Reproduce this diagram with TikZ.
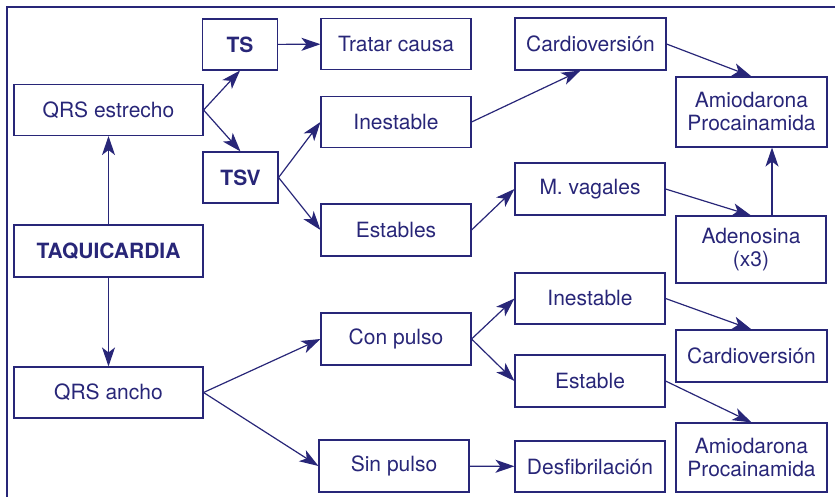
\documentclass[tikz,border=0pt]{standalone}
\usepackage{fontspec}
\setmainfont{TeX Gyre Heros}
\usetikzlibrary{arrows.meta}
\definecolor{azul}{RGB}{40,38,120}
\begin{document}
\begin{tikzpicture}[x=1pt,y=-1pt,
  box/.style={draw=azul, line width=1.1pt, text=azul, inner sep=0pt, align=center,
    minimum width=150pt, minimum height=51pt, font=\fontsize{21}{23}\selectfont},
  flecha/.style={draw=azul, line width=1.2pt, -{Stealth[length=19pt,width=13pt,inset=5pt]}}]
\useasboundingbox (0,0) rectangle (835,497);
\draw[azul, line width=2.5pt] (7,497) -- (7,7) -- (835,7);
% columna izquierda
\node[box, minimum width=189pt] (qrsE) at (108.5,110) {QRS estrecho};
\node[box, minimum width=189pt, minimum height=52pt] (taqui) at (108.5,251) {\bfseries TAQUICARDIA};
\node[box, minimum width=189pt] (qrsA) at (108.5,392.5) {QRS ancho};
\node[box, minimum width=75pt] (ts) at (240,44.5) {\bfseries TS};
\node[box, minimum width=75pt] (tsv) at (240.5,177.5) {\bfseries TSV};
% segunda columna
\node[box] (tratar) at (396,44) {Tratar causa};
\node[box] (inestA) at (396,122) {Inestable};
\node[box, minimum height=52pt] (estables) at (396,230) {Estables};
\node[box, minimum height=52pt] (conP) at (396,339) {Con pulso};
\node[box, minimum height=52pt] (sinP) at (394,466) {Sin pulso};
% tercera columna
\node[box, minimum width=151pt, minimum height=52pt] (cardioA) at (590.5,44) {Cardioversión};
\node[box, minimum height=52pt] (vagales) at (590,189) {M. vagales};
\node[box] (inestB) at (590,298.5) {Inestable};
\node[box, minimum height=52pt] (estable) at (590,381) {Estable};
\node[box] (desfib) at (590,466.5) {Desfibrilación};
% columna derecha
\node[box, minimum width=151pt, minimum height=70pt] (amioA) at (751.5,112) {Amiodarona\\Procainamida};
\node[box, minimum height=67pt] (adeno) at (751,249.5) {Adenosina\\(x3)};
\node[box, minimum width=151pt, minimum height=52pt] (cardioB) at (751.5,356) {Cardioversión};
\node[box, minimum width=151pt, minimum height=69pt] (amioB) at (751.5,457.5) {Amiodarona\\Procainamida};
% flechas
\draw[flecha] (taqui) -- (qrsE);
\draw[flecha] (taqui) -- (qrsA);
\draw[flecha] (qrsE.east) -- (ts.south);
\draw[flecha] (qrsE.east) -- (tsv.north);
\draw[flecha] (ts) -- (tratar);
\draw[flecha] (tsv.east) -- (inestA.west);
\draw[flecha] (tsv.east) -- (estables.west);
\draw[flecha] (inestA.east) -- ([xshift=-10pt]cardioA.south);
\draw[flecha] (estables.east) -- (vagales.west);
\draw[flecha] (cardioA.east) -- (amioA.north);
\draw[flecha] (vagales.east) -- (adeno.north);
\draw[flecha] ([xshift=21pt]adeno.north) -- ([xshift=21pt]adeno.north |- amioA.south);
\draw[flecha] (qrsA.east) -- (conP.west);
\draw[flecha] (qrsA.east) -- (sinP.west);
\draw[flecha] (conP.east) -- (inestB.west);
\draw[flecha] (conP.east) -- (estable.west);
\draw[flecha] (inestB.east) -- (cardioB.north);
\draw[flecha] (estable.east) -- (amioB.north);
\draw[flecha] (sinP) -- (desfib);
\end{tikzpicture}
\end{document}
